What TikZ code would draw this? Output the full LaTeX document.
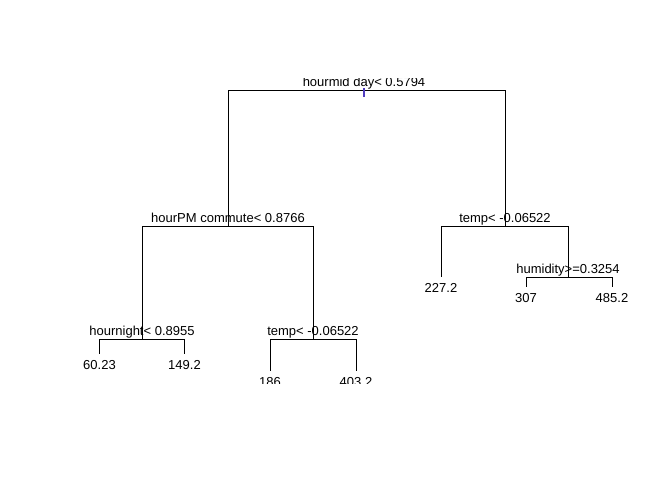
\documentclass[tikz,border=0pt]{standalone}
\usepackage{fontspec}
\setmainfont{Liberation Sans}
\begin{document}
\begin{tikzpicture}[x=1pt,y=-1pt,
  edge/.style={line width=0.9pt, black},
  splitlab/.style={anchor=base, inner sep=0pt, font=\fontsize{13}{15}\selectfont},
  leaflab/.style={anchor=north, inner sep=0pt, font=\fontsize{13}{15}\selectfont},
  rootmark/.style={line width=1.3pt, color=rootcol}]
\definecolor{rootcol}{RGB}{80,60,190}
\useasboundingbox (0,0) rectangle (672,480);
\begin{scope}
  \clip (0,78.5) rectangle (672,383);
  % split points (x of node, y of its horizontal bar)
  \coordinate (root) at (364,90);
  \coordinate (pm)   at (228,226.5);
  \coordinate (tR)   at (505,226.5);
  \coordinate (hum)  at (568,277);
  \coordinate (hn)   at (142,339.5);
  \coordinate (tL)   at (313,339.5);
  % leaf end points
  \coordinate (l1) at (99.5,354);
  \coordinate (l2) at (184.5,354);
  \coordinate (l3) at (270,371);
  \coordinate (l4) at (356,371);
  \coordinate (l5) at (441,277);
  \coordinate (l6) at (526,287);
  \coordinate (l7) at (612,287);
  % branches
  \draw[edge] (root) -| (pm);
  \draw[edge] (root) -| (tR);
  \draw[edge] (pm) -| (hn);
  \draw[edge] (pm) -| (tL);
  \draw[edge] (hn) -| (l1);
  \draw[edge] (hn) -| (l2);
  \draw[edge] (tL) -| (l3);
  \draw[edge] (tL) -| (l4);
  \draw[edge] (tR) -| (l5);
  \draw[edge] (tR) -| (hum);
  \draw[edge] (hum) -| (l6);
  \draw[edge] (hum) -| (l7);
  % split labels
  \node[splitlab] (rootlab) at ([yshift=4pt]root) {hourmid day< 0.5794};
  \node[splitlab] (pmlab) at ([yshift=4pt]pm) {hourPM commute< 0.8766};
  \node[splitlab] (tRlab) at ([yshift=4pt]tR) {temp< -0.06522};
  \node[splitlab] (humlab) at ([yshift=4pt]hum) {humidity>=0.3254};
  \node[splitlab] (hnlab) at ([yshift=4pt]hn) {hournight< 0.8955};
  \node[splitlab] (tLlab) at ([yshift=4pt]tL) {temp< -0.06522};
  % leaf labels
  \node[leaflab] (v1) at ([yshift=-6pt]l1) {60.23};
  \node[leaflab] (v2) at ([yshift=-6pt]l2) {149.2};
  \node[leaflab] (v3) at ([yshift=-6pt]l3) {186};
  \node[leaflab] (v4) at ([yshift=-6pt]l4) {403.2};
  \node[leaflab] (v5) at ([yshift=-6pt]l5) {227.2};
  \node[leaflab] (v6) at ([yshift=-6pt]l6) {307};
  \node[leaflab] (v7) at ([yshift=-6pt]l7) {485.2};
  % root marker
  \draw[rootmark] ([yshift=2pt]root) -- ([yshift=-7pt]root);
\end{scope}
\end{tikzpicture}
\end{document}
